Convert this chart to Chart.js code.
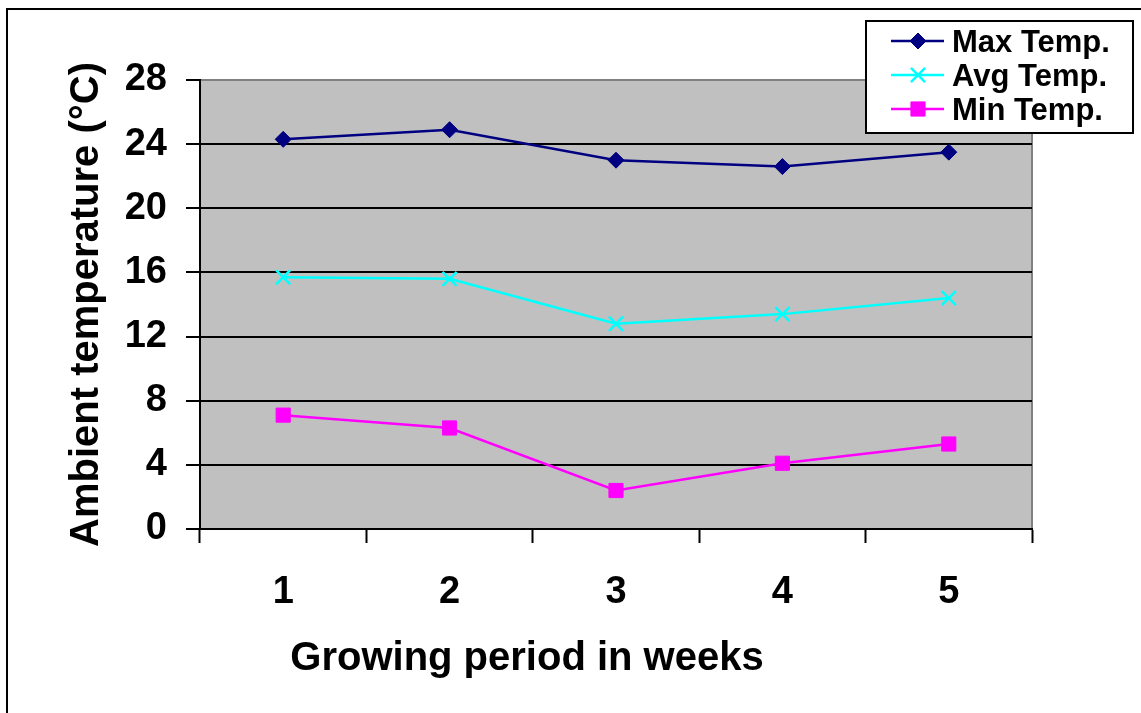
<!DOCTYPE html>
<html>
<head>
<meta charset="utf-8">
<script src="https://cdn.jsdelivr.net/npm/chart.js@4/dist/chart.umd.min.js"></script>
<style>
  body { margin: 0; background: #fff; }
  #wrap { width: 1141px; height: 713px; }
</style>
</head>
<body>
<div id="wrap"><canvas id="myChart" width="1141" height="713"></canvas></div>
<script>
// data
var weeks = ['1', '2', '3', '4', '5'];
var maxTemp = [24.3, 24.9, 23.0, 22.6, 23.5];
var avgTemp = [15.7, 15.6, 12.8, 13.4, 14.4];
var minTemp = [7.1, 6.3, 2.4, 4.1, 5.3];
var seriesNames = ['Max Temp.', 'Avg Temp.', 'Min Temp.'];
var yTitle = 'Ambient temperature (\u00B0C)';
var xTitle = 'Growing period in weeks';

var fontFam = '"Liberation Sans", Arial, sans-serif';

// gray plot background, outer frame, x title and boxed legend
var decor = {
    id: 'decor',
    beforeDraw: function (chart) {
        var ctx = chart.ctx, a = chart.chartArea;
        ctx.save();
        ctx.fillStyle = '#fff';
        ctx.fillRect(0, 0, chart.width, chart.height);
        ctx.fillStyle = '#C0C0C0';
        ctx.fillRect(a.left, a.top, a.right - a.left, a.bottom - a.top);
        ctx.strokeStyle = '#808080';
        ctx.lineWidth = 2;
        ctx.beginPath();
        ctx.moveTo(a.left, a.top);
        ctx.lineTo(a.right, a.top);
        ctx.lineTo(a.right, a.bottom);
        ctx.stroke();
        ctx.restore();
    },
    afterDraw: function (chart) {
        var ctx = chart.ctx;
        ctx.save();
        // outer frame
        ctx.strokeStyle = '#000';
        ctx.lineWidth = 2;
        ctx.strokeRect(7, 9, 1300, 900);

        // x axis title
        ctx.fillStyle = '#000';
        ctx.font = 'bold 40px ' + fontFam;
        ctx.textAlign = 'center';
        ctx.textBaseline = 'middle';
        ctx.fillText(xTitle, 527, 659);

        // legend
        ctx.fillStyle = '#fff';
        ctx.fillRect(866, 21, 267, 112);
        ctx.strokeRect(866, 21, 267, 112);
        ctx.font = 'bold 31px ' + fontFam;
        ctx.textAlign = 'left';
        chart.data.datasets.forEach(function (ds, i) {
            var y = 41 + i * 34;
            ctx.strokeStyle = ds.borderColor;
            ctx.lineWidth = ds.borderWidth;
            ctx.beginPath();
            ctx.moveTo(891, y);
            ctx.lineTo(944, y);
            ctx.stroke();
            ctx.fillStyle = ds.pointBackgroundColor;
            ctx.strokeStyle = ds.borderColor;
            ctx.lineWidth = ds.pointBorderWidth;
            Chart.helpers.drawPoint(ctx, {
                pointStyle: ds.pointStyle,
                radius: ds.pointRadius,
                rotation: 0,
                borderWidth: ds.pointBorderWidth
            }, 918, y);
            ctx.fillStyle = '#000';
            ctx.fillText(ds.label, 952, y + 2);
        });
        ctx.restore();
    }
};

var config = {
    type: 'line',
    data: {
        labels: weeks,
        datasets: [{
            label: seriesNames[0],
            data: maxTemp,
            borderColor: '#000080',
            backgroundColor: '#000080',
            pointBackgroundColor: '#000080',
            borderWidth: 2.5,
            pointStyle: 'rectRot',
            pointRadius: 8,
            pointBorderWidth: 1
        }, {
            label: seriesNames[1],
            data: avgTemp,
            borderColor: '#00FFFF',
            backgroundColor: '#00FFFF',
            pointBackgroundColor: '#00FFFF',
            borderWidth: 2.5,
            pointStyle: 'crossRot',
            pointRadius: 10,
            pointBorderWidth: 2.5
        }, {
            label: seriesNames[2],
            data: minTemp,
            borderColor: '#FF00FF',
            backgroundColor: '#FF00FF',
            pointBackgroundColor: '#FF00FF',
            borderWidth: 2.5,
            pointStyle: 'rect',
            pointRadius: 10,
            pointBorderWidth: 1
        }]
    },
    options: {
        responsive: false,
        animation: false,
        layout: { padding: { top: 80, right: 109, bottom: 0, left: 0 } },
        plugins: {
            legend: { display: false },
            tooltip: { enabled: false }
        },
        scales: {
            x: {
                offset: true,
                afterFit: function (s) { s.height = 184; },
                border: { color: '#000', width: 2 },
                grid: {
                    offset: true,
                    drawOnChartArea: false,
                    drawTicks: true,
                    tickLength: 14,
                    tickWidth: 2,
                    tickColor: '#000'
                },
                ticks: {
                    color: '#000',
                    padding: 27,
                    font: { family: fontFam, size: 38, weight: 'bold' }
                }
            },
            y: {
                min: 0,
                max: 28,
                afterFit: function (s) { s.width = 200; },
                border: { color: '#000', width: 2 },
                grid: {
                    color: function (c) { return c.tick && c.tick.value === 28 ? '#808080' : '#000'; },
                    lineWidth: 2,
                    tickLength: 14,
                    tickColor: '#000',
                    tickWidth: 2
                },
                ticks: {
                    stepSize: 4,
                    color: '#000',
                    padding: 19,
                    font: { family: fontFam, size: 38, weight: 'bold' }
                },
                title: {
                    display: true,
                    text: yTitle,
                    color: '#000',
                    padding: { top: 63, bottom: 0 },
                    font: { family: fontFam, size: 40, weight: 'bold' }
                }
            }
        }
    },
    plugins: [decor]
};

var myChart = new Chart(document.getElementById('myChart'), config);
</script>
</body>
</html>
